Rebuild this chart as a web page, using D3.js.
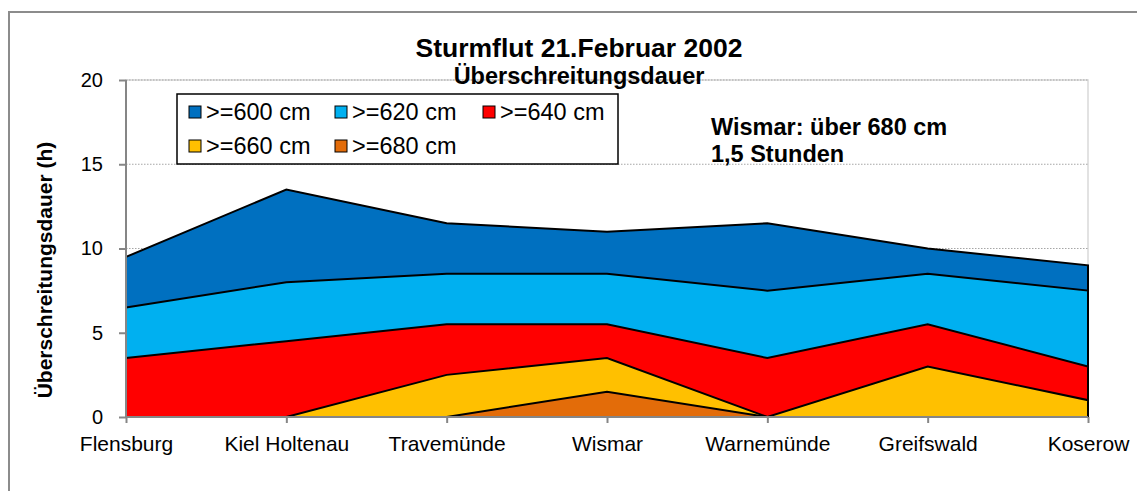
<!DOCTYPE html>
<html>
<head>
<meta charset="utf-8">
<script src="https://cdn.jsdelivr.net/npm/d3@7/dist/d3.min.js"></script>
<style>
  body { margin: 0; background: #fff; }
  svg { display: block; font-family: Arial, "Liberation Sans", sans-serif; }
</style>
</head>
<body>
<svg id="chart"></svg>
<script>
const stations = ['Flensburg', 'Kiel Holtenau', 'Travemünde', 'Wismar', 'Warnemünde', 'Greifswald', 'Koserow'];
const seriesNames = ['>=600 cm', '>=620 cm', '>=640 cm', '>=660 cm', '>=680 cm'];
const seriesColors = ['#0070c0', '#00b0f0', '#ff0000', '#ffc000', '#e36c09'];
const v600 = [9.5, 13.5, 11.5, 11, 11.5, 10, 9];
const v620 = [6.5, 8, 8.5, 8.5, 7.5, 8.5, 7.5];
const v640 = [3.5, 4.5, 5.5, 5.5, 3.5, 5.5, 3];
const v660 = [0, 0, 2.5, 3.5, 0, 3, 1];
const v680 = [0, 0, 0, 1.5, 0, 0, 0];
const yTicks = [0, 5, 10, 15, 20];

const series = [v600, v620, v640, v660, v680].map((vals, i) => ({
  name: seriesNames[i],
  color: seriesColors[i],
  values: vals.map((v, j) => ({ station: stations[j], value: v }))
}));

const svgWidth = 1137;
const svgHeight = 491;
const margin = { top: 80, right: 49, bottom: 74, left: 126 };
const chartWidth = svgWidth - margin.left - margin.right;
const chartHeight = svgHeight - margin.top - margin.bottom;

const svg = d3.select('#chart')
  .attr('width', svgWidth)
  .attr('height', svgHeight);

// outer frame (runs past the window on right and bottom)
svg.append('rect')
  .attr('x', 9).attr('y', 12)
  .attr('width', 1200).attr('height', 600)
  .attr('fill', 'none')
  .attr('stroke', '#8c8c8c')
  .attr('stroke-width', 2);

const xScale = d3.scalePoint()
  .domain(stations)
  .range([0, chartWidth]);

const yScale = d3.scaleLinear()
  .domain([0, 20])
  .range([chartHeight, 0]);

const g = svg.append('g')
  .attr('transform', `translate(${margin.left}, ${margin.top})`);

// plot area border
g.append('rect')
  .attr('width', chartWidth)
  .attr('height', chartHeight)
  .attr('fill', 'none')
  .attr('stroke', '#d9d9d9')
  .attr('stroke-width', 1.5);

// gridlines
g.selectAll('.grid')
  .data(yTicks.filter(d => d > 0))
  .enter().append('line')
  .attr('class', 'grid')
  .attr('x1', 0).attr('x2', chartWidth)
  .attr('y1', d => yScale(d)).attr('y2', d => yScale(d))
  .attr('stroke', '#a6a6a6')
  .attr('stroke-width', 1)
  .attr('stroke-dasharray', '1.5,1.5');

const area = d3.area()
  .x(d => xScale(d.station))
  .y0(yScale(0))
  .y1(d => yScale(d.value));

g.selectAll('.area')
  .data(series)
  .enter().append('path')
  .attr('class', 'area')
  .attr('d', d => area(d.values))
  .attr('fill', d => d.color)
  .attr('stroke', '#000')
  .attr('stroke-width', 2)
  .attr('stroke-linejoin', 'miter');

const yAxis = d3.axisLeft(yScale).tickValues(yTicks).tickSize(7).tickPadding(16);
const xAxis = d3.axisBottom(xScale).tickSize(6).tickPadding(13);

const yAxisG = g.append('g').call(yAxis);
const xAxisG = g.append('g')
  .attr('transform', `translate(0, ${chartHeight})`)
  .call(xAxis);

[yAxisG, xAxisG].forEach(a => {
  a.select('.domain').attr('stroke', '#868686').attr('stroke-width', 2);
  a.selectAll('.tick line').attr('stroke', '#868686').attr('stroke-width', 2);
  a.selectAll('.tick text').attr('fill', '#000').style('font-size', '20px');
});
xAxisG.selectAll('.tick text').style('font-size', '21px');
// domain lines without outer tick stubs
yAxisG.select('.domain').attr('d', `M0,${chartHeight}V0`);
xAxisG.select('.domain').attr('d', `M0,0H${chartWidth}`);

// y axis title
svg.append('text')
  .attr('transform', 'translate(52, 270) rotate(-90)')
  .attr('text-anchor', 'middle')
  .style('font-size', '21px')
  .style('font-weight', 'bold')
  .text('Überschreitungsdauer (h)');

// titles
svg.append('text')
  .attr('x', 579).attr('y', 57)
  .attr('text-anchor', 'middle')
  .style('font-size', '26.5px')
  .style('font-weight', 'bold')
  .text('Sturmflut 21.Februar 2002');

svg.append('text')
  .attr('x', 579).attr('y', 84)
  .attr('text-anchor', 'middle')
  .style('font-size', '23.5px')
  .style('font-weight', 'bold')
  .text('Überschreitungsdauer');

// annotation
svg.append('text')
  .attr('x', 711).attr('y', 135)
  .style('font-size', '23.5px')
  .style('font-weight', 'bold')
  .text('Wismar: über 680 cm');
svg.append('text')
  .attr('x', 711).attr('y', 162)
  .style('font-size', '23.5px')
  .style('font-weight', 'bold')
  .text('1,5 Stunden');

// legend
const legend = svg.append('g').attr('transform', 'translate(177, 94)');
legend.append('rect')
  .attr('width', 441).attr('height', 70)
  .attr('fill', '#fff')
  .attr('stroke', '#000')
  .attr('stroke-width', 1.5);

const colX = [12, 158, 306];
const item = legend.selectAll('.item')
  .data(series)
  .enter().append('g')
  .attr('class', 'item')
  .attr('transform', (d, i) => `translate(${colX[i % 3]}, ${i < 3 ? 12 : 46})`);
item.append('rect')
  .attr('width', 12).attr('height', 12)
  .attr('fill', d => d.color)
  .attr('stroke', '#000')
  .attr('stroke-width', 1);
item.append('text')
  .attr('x', 17).attr('y', 14)
  .style('font-size', '23.5px')
  .text(d => d.name);
</script>
</body>
</html>
